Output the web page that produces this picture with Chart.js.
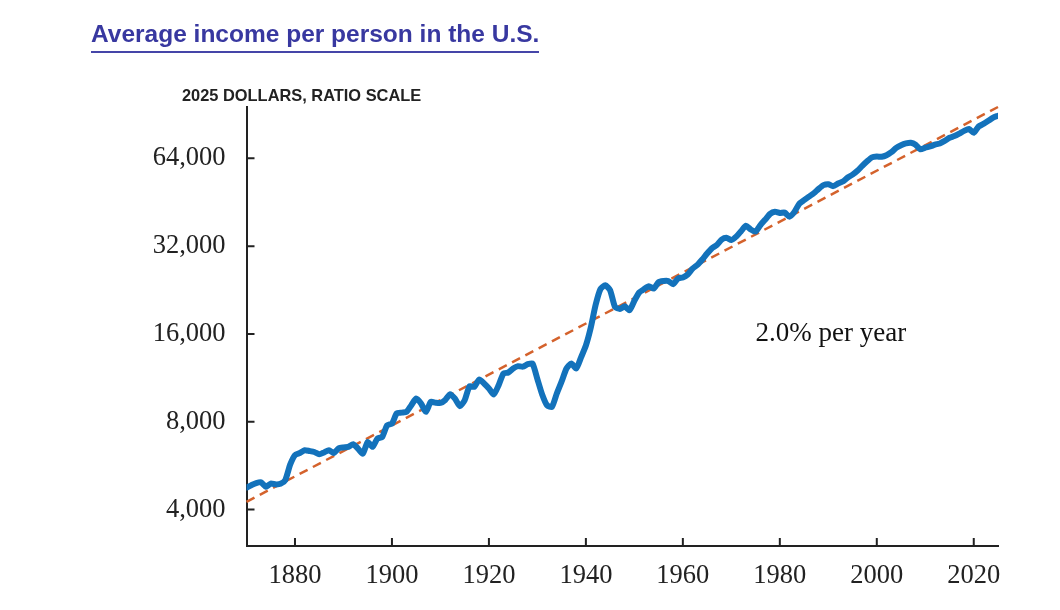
<!DOCTYPE html>
<html>
<head>
<meta charset="utf-8">
<script src="https://cdn.jsdelivr.net/npm/chart.js@4.4.1/dist/chart.umd.min.js"></script>
<style>
  html, body { margin: 0; padding: 0; background: #fff; }
  #wrap { position: relative; width: 1060px; height: 610px; }
  canvas { position: absolute; left: 0; top: 0; }
  #title {
    position: absolute; left: 91px; top: 20px;
    font: bold 24.5px "Liberation Sans", Arial, sans-serif;
    line-height: 28px; color: #3838a0;
    padding-bottom: 3px; border-bottom: 2px solid #4545a8;
  }
  #subtitle {
    position: absolute; left: 182px; top: 87px;
    font: bold 16.4px "Liberation Sans", Arial, sans-serif;
    line-height: 16px; color: #222;
  }
</style>
</head>
<body>
<div id="wrap">
  <canvas id="myChart" width="1060" height="610"></canvas>
  <div id="title">Average income per person in the U.S.</div>
  <div id="subtitle">2025 DOLLARS, RATIO SCALE</div>
</div>
<script>
// yearly values (2025 dollars)
const years = [];
for (let y = 1870; y <= 2025; y++) years.push(y);

const income = [
  4760, 4850, 4930, 4960, 4790, 4910, 4880, 4900, 5050, 5700,   // 1870s
  6150, 6250, 6390, 6350, 6300, 6190, 6280, 6390, 6250, 6480,   // 1880s
  6530, 6560, 6700, 6470, 6220, 6820, 6560, 7010, 7100, 7780,   // 1890s
  7890, 8550, 8600, 8650, 9120, 9610, 9240, 8650, 9360, 9300,   // 1900s
  9280, 9500, 9950, 9600, 9050, 9480, 10590, 10540, 11170, 10820, // 1910s
  10400, 9920, 10670, 11710, 11800, 12180, 12410, 12360, 12600, 12670, // 1920s
  11200, 9900, 9100, 9000, 10000, 11000, 12180, 12670, 12180, 13300, // 1930s
  14600, 16800, 20100, 22800, 23500, 22600, 19800, 19500, 19900, 19300, // 1940s
  20800, 22200, 22800, 23300, 22900, 24100, 24300, 24300, 23700, 24800, // 1950s
  25000, 25600, 26800, 27600, 28800, 30200, 31500, 32300, 33700, 34200, // 1960s
  33600, 34500, 36000, 37600, 36500, 35900, 37800, 39500, 41300, 42000, // 1970s
  41600, 41700, 40400, 41900, 44700, 46000, 47300, 48600, 50300, 51800, // 1980s
  52200, 51400, 52500, 53300, 55000, 56300, 58000, 60300, 62500, 64500, // 1990s
  64900, 64800, 65600, 67200, 69500, 71000, 72000, 72400, 71300, 68700, // 2000s
  69600, 70300, 71300, 72000, 73500, 75300, 76300, 77800, 79500, 80700, // 2010s
  78300, 82300, 84000, 86100, 88300, 89600                            // 2020s
];

// 2.0% per year trend, end points
const trendYears = [1870, 2025];
const trendValues = [4250, 96000];

const yTickValues = [4000, 8000, 16000, 32000, 64000];
const yTickLabels = ['4,000', '8,000', '16,000', '32,000', '64,000'];
const xTickValues = [1880, 1900, 1920, 1940, 1960, 1980, 2000, 2020];

const noteText = '2.0% per year';
const noteYear = 1975;
const noteValue = 16000;

const serif = '"Liberation Serif", "Times New Roman", serif';

// ticks point inward, plus the note text
const innerTicks = {
  id: 'innerTicks',
  afterDraw(chart) {
    const { ctx, chartArea, scales } = chart;
    ctx.save();
    ctx.strokeStyle = '#222';
    ctx.lineWidth = 2;
    ctx.beginPath();
    yTickValues.forEach(v => {
      const py = scales.y.getPixelForValue(v);
      ctx.moveTo(chartArea.left, py);
      ctx.lineTo(chartArea.left + 8, py);
    });
    xTickValues.forEach(v => {
      const px = scales.x.getPixelForValue(v);
      ctx.moveTo(px, chartArea.bottom);
      ctx.lineTo(px, chartArea.bottom - 8);
    });
    ctx.stroke();

    ctx.fillStyle = '#111';
    ctx.font = '27px ' + serif;
    ctx.textBaseline = 'middle';
    ctx.textAlign = 'left';
    ctx.fillText(noteText, scales.x.getPixelForValue(noteYear), scales.y.getPixelForValue(noteValue));
    ctx.restore();
  }
};

const ctx = document.getElementById('myChart').getContext('2d');
new Chart(ctx, {
  type: 'line',
  data: {
    datasets: [
      {
        label: 'Income',
        data: years.map((y, i) => ({ x: y, y: income[i] })),
        borderColor: '#1372bb',
        borderWidth: 6,
        pointRadius: 0,
        tension: 0.2,
        borderJoinStyle: 'round',
        borderCapStyle: 'round',
        fill: false
      },
      {
        label: 'Trend',
        data: trendYears.map((y, i) => ({ x: y, y: trendValues[i] })),
        borderColor: '#d4622c',
        borderWidth: 2.5,
        borderDash: [9, 6],
        pointRadius: 0,
        fill: false,
        clip: false
      }
    ]
  },
  options: {
    responsive: false,
    animation: false,
    devicePixelRatio: 1,
    layout: { padding: { left: 0, top: 107, right: 62, bottom: 0 } },
    plugins: {
      legend: { display: false },
      tooltip: { enabled: false }
    },
    scales: {
      x: {
        type: 'linear',
        min: 1870,
        max: 2025,
        afterBuildTicks: s => { s.ticks = xTickValues.map(v => ({ value: v })); },
        afterFit: s => { s.height = 64; },
        ticks: {
          autoSkip: false,
          maxRotation: 0,
          padding: 14,
          color: '#222',
          font: { family: serif, size: 26.5 },
          callback: v => String(v)
        },
        grid: { display: false, drawTicks: false },
        border: { display: true, color: '#222', width: 2 }
      },
      y: {
        type: 'logarithmic',
        min: 3000,
        max: 96000,
        afterBuildTicks: s => { s.ticks = yTickValues.map(v => ({ value: v })); },
        afterFit: s => { s.width = 246.5; },
        ticks: {
          autoSkip: false,
          padding: 21,
          color: '#222',
          font: { family: serif, size: 26.5 },
          callback: v => yTickLabels[yTickValues.indexOf(v)]
        },
        grid: { display: false, drawTicks: false },
        border: { display: true, color: '#222', width: 2 }
      }
    }
  },
  plugins: [innerTicks]
});
</script>
</body>
</html>
